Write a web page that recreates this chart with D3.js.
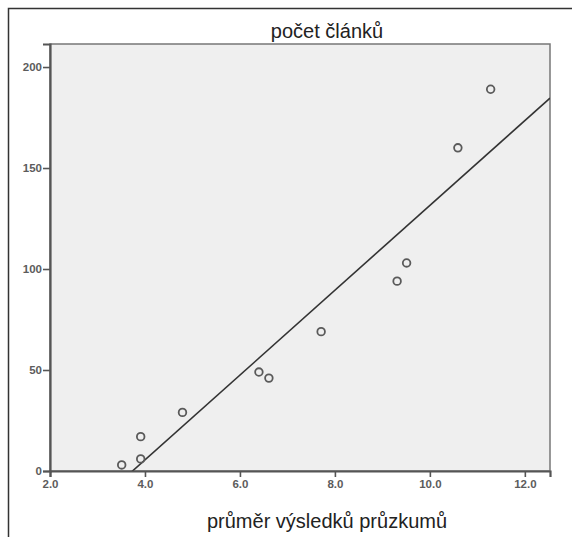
<!DOCTYPE html>
<html>
<head>
<meta charset="utf-8">
<script src="https://cdn.jsdelivr.net/npm/d3@7"></script>
<style>
  body { margin: 0; background: #fff; }
  svg { display: block; }
</style>
</head>
<body>
<svg id="chart" width="572" height="537"></svg>
<script>
// data
const xValues = [3.51, 3.91, 3.91, 4.79, 6.40, 6.61, 7.71, 9.31, 9.51, 10.59, 11.28];
const yValues = [3, 6, 17, 29, 49, 46, 69, 94, 103, 160, 189];
const xTicks = [2.0, 4.0, 6.0, 8.0, 10.0, 12.0];
const yTicks = [0, 50, 100, 150, 200];
// fit line (intercept, slope) as drawn
const fitLine = [-78.5, 21.0];
const titleText = "počet článků";
const xLabelText = "průměr výsledků průzkumů";

const MARGIN = { LEFT: 50, RIGHT: 22, TOP: 44, BOTTOM: 66 };
const width = 572, height = 537;

let svg = d3.select("#chart");

let xScale = d3.scaleLinear()
    .domain([2, 12.53])
    .range([MARGIN.LEFT, width - MARGIN.RIGHT]);

let yScale = d3.scaleLinear()
    .domain([0, 211.4])
    .range([height - MARGIN.BOTTOM, MARGIN.TOP]);

// outer frame (top + left only)
svg.append("path")
    .attr("d", "M8.5,537 L8.5,8.5 L572,8.5")
    .attr("fill", "none")
    .attr("stroke", "#333")
    .attr("stroke-width", 1.5);

// plot background
svg.append("rect")
    .attr("x", MARGIN.LEFT)
    .attr("y", MARGIN.TOP)
    .attr("width", width - MARGIN.RIGHT - MARGIN.LEFT)
    .attr("height", height - MARGIN.BOTTOM - MARGIN.TOP)
    .attr("fill", "#efefef")
    .attr("stroke", "#777")
    .attr("stroke-width", 1.5);

let plot = svg.append("g").attr("class", "plot");

// clip for the fit line
svg.append("clipPath").attr("id", "clip")
  .append("rect")
    .attr("x", MARGIN.LEFT)
    .attr("y", MARGIN.TOP)
    .attr("width", width - MARGIN.RIGHT - MARGIN.LEFT)
    .attr("height", height - MARGIN.BOTTOM - MARGIN.TOP);

let xs = xScale.domain();
let lineData = [xs[0], xs[1]].map(x => [x, fitLine[0] + fitLine[1] * x]);
let line = d3.line()
    .x(d => xScale(d[0]))
    .y(d => yScale(d[1]));

plot.append("path")
    .datum(lineData)
    .attr("clip-path", "url(#clip)")
    .attr("d", line)
    .attr("fill", "none")
    .attr("stroke", "#333")
    .attr("stroke-width", 1.6);

// points
let pts = xValues.map((x, i) => ({ x: x, y: yValues[i] }));
plot.selectAll("circle")
    .data(pts)
    .join("circle")
    .attr("cx", d => xScale(d.x))
    .attr("cy", d => yScale(d.y))
    .attr("r", 3.8)
    .attr("fill", "none")
    .attr("stroke", "#5a5a5a")
    .attr("stroke-width", 1.8);

// axes
let yAxis = d3.axisLeft(yScale)
    .tickValues(yTicks)
    .tickFormat(d3.format("d"))
    .tickSizeOuter(0)
    .tickSize(7)
    .tickPadding(1);

let gy = svg.append("g")
    .attr("transform", "translate(" + MARGIN.LEFT + ",0)")
    .call(yAxis);

let xAxis = d3.axisBottom(xScale)
    .tickValues(xTicks)
    .tickFormat(d3.format(".1f"))
    .tickSizeOuter(0)
    .tickSize(6)
    .tickPadding(3);

let gx = svg.append("g")
    .attr("transform", "translate(0," + (height - MARGIN.BOTTOM) + ")")
    .call(xAxis);

[gx, gy].forEach(g => {
  g.select(".domain").attr("stroke", "#555").attr("stroke-width", 2.2);
  g.selectAll(".tick line").attr("stroke", "#555").attr("stroke-width", 1.6);
  g.selectAll(".tick text")
    .attr("fill", "#5c5c5c")
    .style("font-family", "'Liberation Sans', Arial, sans-serif")
    .style("font-size", "11.5px")
    .style("font-weight", "bold");
});

// title and axis label
svg.append("text")
    .attr("x", 327)
    .attr("y", 38)
    .attr("text-anchor", "middle")
    .style("font-family", "'Liberation Sans', Arial, sans-serif")
    .style("font-size", "20px")
    .attr("fill", "#222")
    .text(titleText);

svg.append("text")
    .attr("x", 327)
    .attr("y", 528)
    .attr("text-anchor", "middle")
    .style("font-family", "'Liberation Sans', Arial, sans-serif")
    .style("font-size", "20px")
    .attr("fill", "#222")
    .text(xLabelText);
</script>
</body>
</html>
